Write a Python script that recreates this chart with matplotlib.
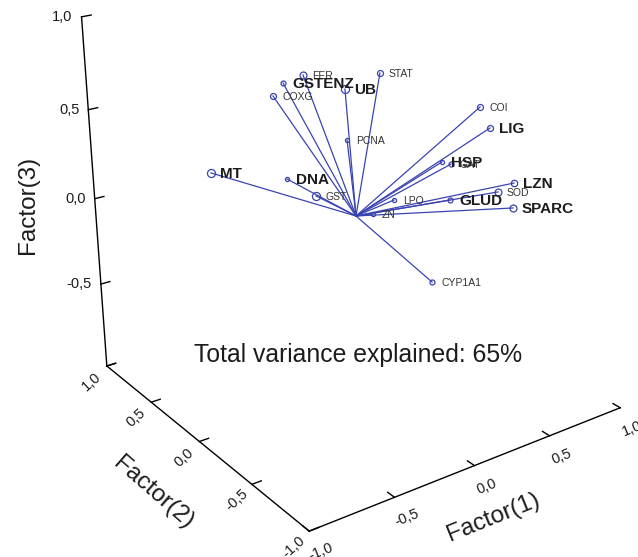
import matplotlib
matplotlib.use("Agg")
import matplotlib.pyplot as plt
import numpy as np

plt.rcParams['font.family'] = ['Liberation Sans', 'DejaVu Sans']

# factor loadings (Factor 1, Factor 2, Factor 3)
names = ['MT', 'DNA', 'GST', 'FER', 'GSTENZ', 'COXG', 'UB', 'STAT', 'PCNA', 'COI',
         'LIG', 'HSP', 'GAT', 'LZN', 'SOD', 'GLUD', 'SPARC', 'LPO', 'ZN', 'CYP1A1']
factor1 = [-0.686, -0.358, -0.317, -0.180, -0.237, -0.300, -0.061, 0.011, 0.019, 0.492,
           0.476, 0.330, 0.308, 0.646, 0.453, 0.386, 0.644, 0.173, 0.110, 0.351]
factor2 = [0.30, 0.10, -0.10, 0.20, 0.30, 0.30, 0.00, -0.20, 0.10, -0.40,
           -0.50, -0.30, -0.40, -0.50, -0.60, -0.30, -0.50, -0.10, 0.00, -0.20]
factor3 = [0.301, 0.257, 0.222, 0.748, 0.689, 0.632, 0.705, 0.830, 0.385, 0.612,
           0.533, 0.321, 0.346, 0.197, 0.227, 0.098, 0.059, 0.082, -0.016, -0.397]

bold_names = ['MT', 'DNA', 'GSTENZ', 'UB', 'LIG', 'HSP', 'LZN', 'GLUD', 'SPARC']
# marker diameter in points
msize = {'MT': 5.8, 'DNA': 3.0, 'GST': 5.8, 'FER': 5.0, 'GSTENZ': 3.6, 'COXG': 4.3,
         'UB': 5.8, 'STAT': 4.3, 'PCNA': 3.0, 'COI': 4.3, 'LIG': 4.3, 'HSP': 3.0,
         'GAT': 3.6, 'LZN': 4.6, 'SOD': 5.0, 'GLUD': 3.6, 'SPARC': 5.0, 'LPO': 3.0,
         'ZN': 3.0, 'CYP1A1': 3.6}

ticks = [-1.0, -0.5, 0.0, 0.5, 1.0]
variance_text = 'Total variance explained: 65%'

BLUE = '#3a44b0'
INK = '#1c1c1c'


def project(x, y, z):
    """perspective view of the cube [-1,1]^3 onto figure pixels"""
    x = np.asarray(x, float)
    y = np.asarray(y, float)
    z = np.asarray(z, float)
    w = 1 + 0.06 * x + 0.084 * y - 0.043 * z
    u = (356 + 177 * x - 82 * y - 17 * z) / w
    v = (216 - 31 * x - 43.5 * y - 187 * z) / w
    return u, v


def fmt(t):
    return ('%.1f' % t).replace('.', ',')


fig = plt.figure(figsize=(6.38, 5.57), dpi=100)
ax = fig.add_axes([0, 0, 1, 1])
ax.set_xlim(0, 638)
ax.set_ylim(557, 0)
ax.axis('off')

# axis frame
s = np.linspace(-1, 1, 50)
u, v = project(np.full_like(s, -1), np.full_like(s, 1), s)
ax.plot(u, v, color='black', lw=1)
u, v = project(np.full_like(s, -1), s, np.full_like(s, -1))
ax.plot(u, v, color='black', lw=1)
u, v = project(s, np.full_like(s, -1), np.full_like(s, -1))
ax.plot(u, v, color='black', lw=1)

tl = 0.055
for t in ticks:
    # Factor(3) - bottom label is shared with the Factor(2) end, so skip it
    u, v = project([-1, -1 + tl], [1, 1], [t, t])
    ax.plot(u, v, color='black', lw=1)
    if t > -1:
        ax.annotate(fmt(t), (u[0], v[0]), xytext=(-6.5, 0), textcoords='offset points',
                    ha='right', va='center', fontsize=10.5, color=INK)
    # Factor(2)
    u, v = project([-1, -1 + tl], [t, t], [-1, -1])
    ax.plot(u, v, color='black', lw=1)
    ax.annotate(fmt(t), (u[0], v[0]), xytext=(-10.8, -11.5), textcoords='offset points',
                ha='center', va='center', fontsize=10.5, color=INK, rotation=42)
    # Factor(1)
    u, v = project([t, t], [-1, -1 + tl], [-1, -1])
    ax.plot(u, v, color='black', lw=1)
    ax.annotate(fmt(t), (u[0], v[0]), xytext=(8.6, -15), textcoords='offset points',
                ha='center', va='center', fontsize=10.5, color=INK, rotation=22)

ax.text(28, 205, 'Factor(3)', rotation=90, ha='center', va='center', fontsize=17.5, color=INK)
ax.text(153, 493, 'Factor(2)', rotation=-41, ha='center', va='center', fontsize=17.5, color=INK)
ax.text(493, 517, 'Factor(1)', rotation=22, ha='center', va='center', fontsize=17.5, color=INK)
ax.text(358, 355, variance_text, ha='center', va='center', fontsize=17.8, color=INK)

# loading vectors
ou, ov = project(0, 0, 0)
pu, pv = project(factor1, factor2, factor3)
for name, x1, y1 in zip(names, pu, pv):
    ax.plot([ou, x1], [ov, y1], color=BLUE, lw=0.9, zorder=3)
    ax.plot(x1, y1, 'o', ms=msize[name], mfc='none', mec=BLUE, mew=0.9, zorder=4)
    if name in bold_names:
        ax.annotate(name, (x1, y1), xytext=(6.5, -1), textcoords='offset points',
                    ha='left', va='center', fontsize=11, fontweight='bold', color=INK, zorder=5)
    else:
        ax.annotate(name, (x1, y1), xytext=(6.5, -0.5), textcoords='offset points',
                    ha='left', va='center', fontsize=7.5, color='#333333', zorder=5)

fig.savefig('out.png', dpi=100)
